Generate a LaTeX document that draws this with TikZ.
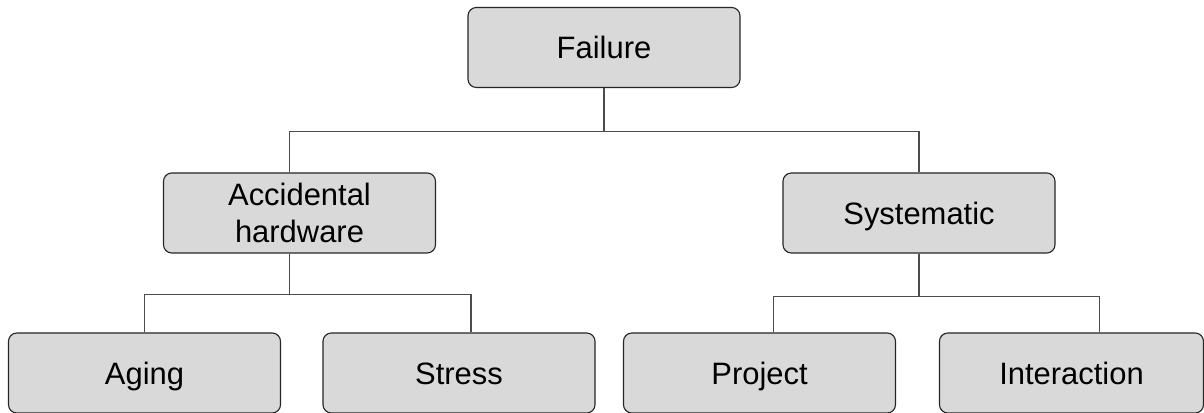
\documentclass[tikz,border=0pt]{standalone}
\usepackage{fontspec}
\setmainfont{Liberation Sans}
\usetikzlibrary{positioning}

\begin{document}
\begin{tikzpicture}[x=0.025cm, y=-0.025cm,
    cause/.style={draw=black!85, rounded corners=6pt, minimum width=6.8cm, minimum height=2cm, align=center, font=\fontsize{22}{26}\selectfont, fill=black!15, line width=0.8pt, text height=20pt, text depth=4.25pt},
    link/.style={draw=black!70, line width=0.8pt}
]
\useasboundingbox (0,0) rectangle (1204,413);
\node[cause] (fail) at (604,47.5) {Failure};
\node[cause, text height=, text depth=] (acc) at (299.5,213) {Accidental\\hardware};
\node[cause] (sys) at (919,213) {Systematic};
\node[cause] (aging) at (144.5,373) {Aging};
\node[cause] (stress) at (459,373) {Stress};
\node[cause] (proj) at (759.5,373) {Project};
\node[cause, minimum width=6.6cm] (inter) at (1071.5,373) {Interaction};

\draw[link] (fail.south) -- ++(0,43) coordinate (split1);
\draw[link] ([xshift=-0.24cm]acc.north) |- (split1) -| (sys.north);
\draw[link] ([xshift=-0.24cm]acc.south) -- ++(0,41) coordinate (split2);
\draw[link] (aging.north) |- (split2) -| ([xshift=0.3cm]stress.north);
\draw[link] (sys.south) -- ++(0,43) coordinate (split3);
\draw[link] ([xshift=0.36cm]proj.north) |- (split3) -| ([xshift=0.71cm]inter.north);
\end{tikzpicture}
\end{document}
